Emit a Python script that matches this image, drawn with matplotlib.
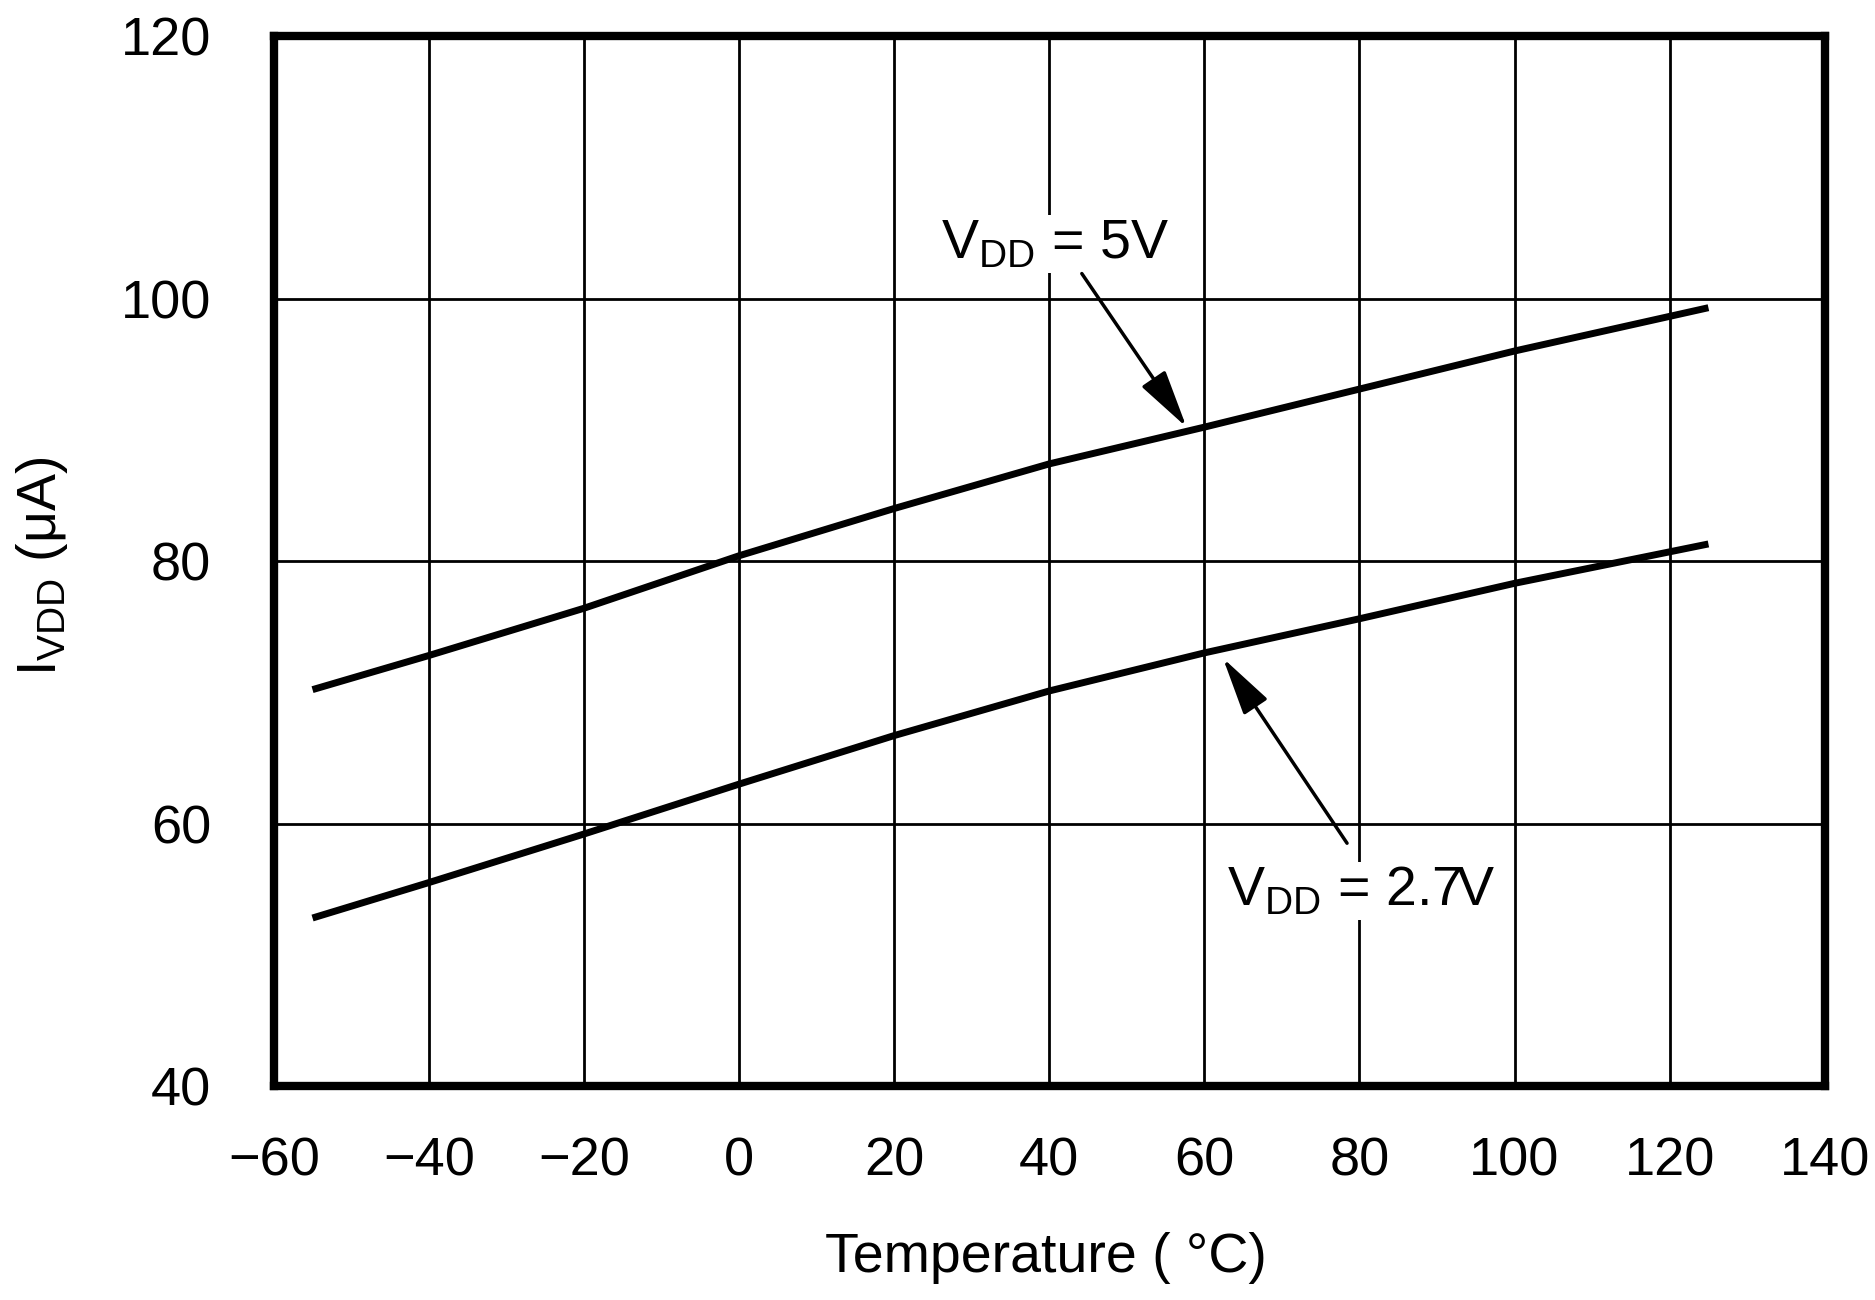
#!/usr/bin/env python3
"""Supply current vs temperature (I_VDD vs T), two supply voltages."""
import matplotlib

matplotlib.use("Agg")
import matplotlib.pyplot as plt

plt.rcParams["font.family"] = ["Liberation Sans", "DejaVu Sans"]

# values
temp_c = [-55, -40, -20, 0, 20, 40, 60, 80, 100, 125]
ivdd_5v = [70.2, 72.8, 76.4, 80.4, 84.0, 87.4, 90.2, 93.1, 96.0, 99.3]
ivdd_2v7 = [52.8, 55.5, 59.2, 63.0, 66.7, 70.1, 73.0, 75.6, 78.3, 81.3]

x_ticks = [-60, -40, -20, 0, 20, 40, 60, 80, 100, 120, 140]
y_ticks = [40, 60, 80, 100, 120]

fig = plt.figure(figsize=(18.75, 13), dpi=100)
fig.patch.set_facecolor("white")
ax = fig.add_axes([0.146, 0.1646, 0.8272, 0.8077])
color = "black"

ax.plot(temp_c, ivdd_5v, color=color, linewidth=5.0, solid_capstyle="butt", zorder=3)
ax.plot(temp_c, ivdd_2v7, color=color, linewidth=5.0, solid_capstyle="butt", zorder=3)

ax.set_xlim(-60, 140)
ax.set_ylim(40, 120)
ax.set_xticks(x_ticks)
ax.set_yticks(y_ticks)
ax.grid(True, color=color, linewidth=2.0, zorder=1)
ax.set_axisbelow(True)

for spine in ax.spines.values():
    spine.set_color(color)
    spine.set_linewidth(6.0)
    spine.set_zorder(4)
ax.tick_params(axis="both", length=0, labelsize=39, colors=color)
ax.tick_params(axis="x", pad=36)
ax.tick_params(axis="y", pad=45)

ax.set_xlabel("Temperature ( °C)", fontsize=40, va="center", ha="center")
ax.xaxis.set_label_coords(0.4977, -0.1638)
ax.set_ylabel(r"I$_{\mathregular{VDD}}$ (μA)", fontsize=40, va="center", ha="center")
ax.yaxis.set_label_coords(-0.1496, 0.495)

# callouts
box = dict(facecolor="white", edgecolor="none", pad=2)
arrow = dict(arrowstyle="-|>,head_length=0.45,head_width=0.11", mutation_scale=80,
             color=color, lw=2.5, shrinkA=0, shrinkB=0)

ax.text(40.7, 103.1, r"V$_{\mathregular{DD}}$ = 5V", fontsize=40, ha="center",
        va="baseline", bbox=box, zorder=5)
ax.annotate("", xy=(57.7, 90.2), xytext=(44.2, 101.9), arrowprops=arrow, zorder=5)

ax.text(80.2, 53.8, r"V$_{\mathregular{DD}}$ = 2.7V", fontsize=40, ha="center",
        va="baseline", bbox=box, zorder=5)
ax.annotate("", xy=(62.4, 72.6), xytext=(78.4, 58.5), arrowprops=arrow, zorder=5)

fig.savefig("out.png", facecolor="white")
